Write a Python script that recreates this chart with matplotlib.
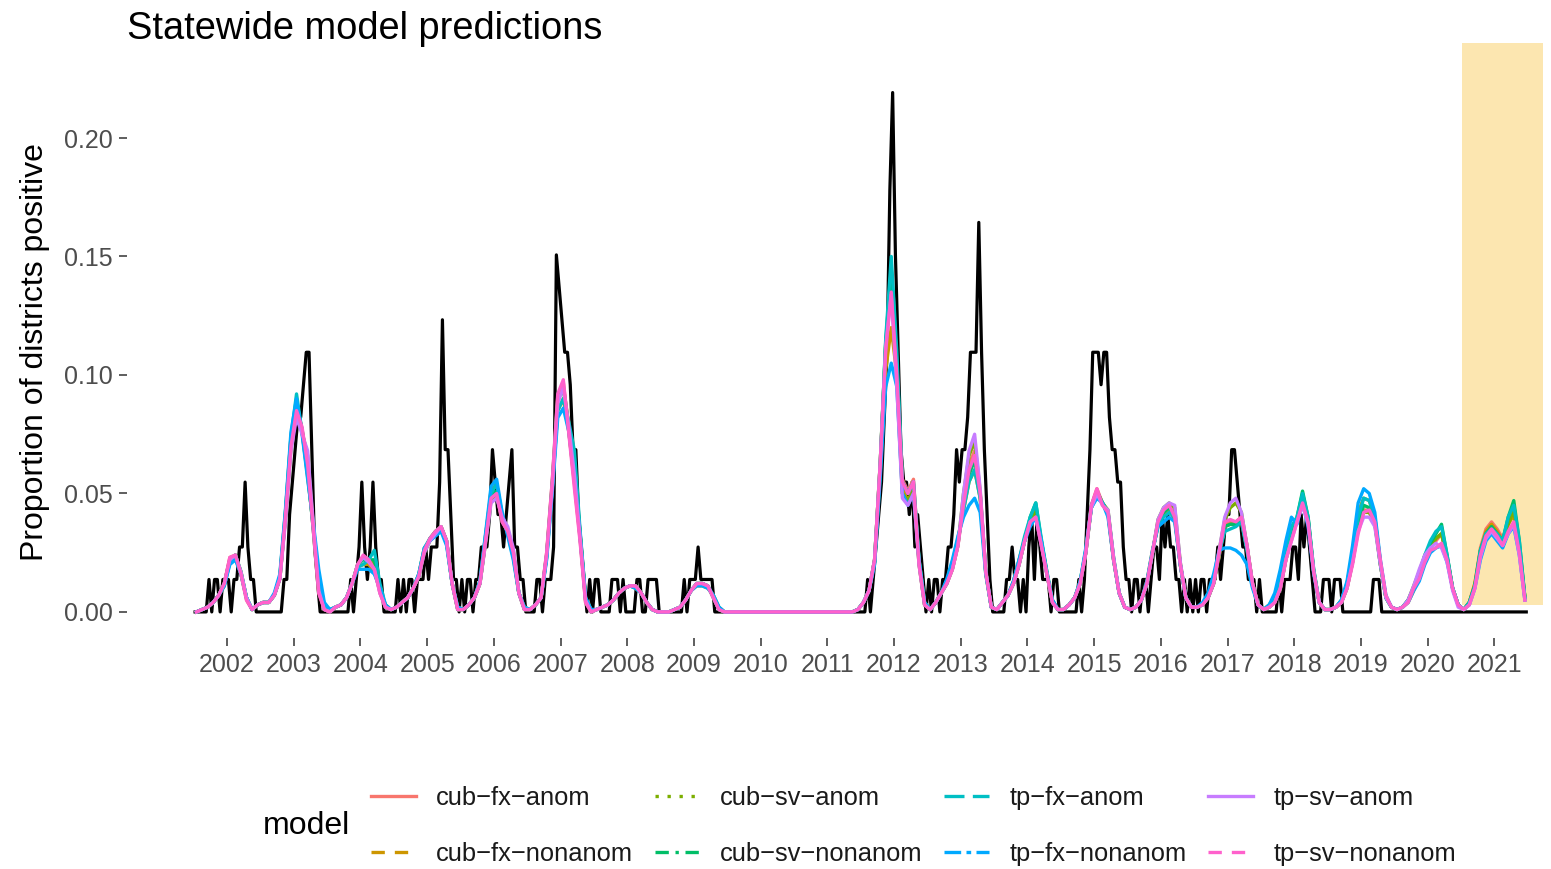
"""Statewide model predictions: observed proportion of districts positive vs 8 model fits."""
import numpy as np
import matplotlib
matplotlib.use("Agg")
import matplotlib.pyplot as plt
from matplotlib.lines import Line2D

plt.rcParams["font.family"] = ["Liberation Sans", "DejaVu Sans"]

N_DISTRICTS = 73
T_START = 2001.5          # series start (mid 2001)
PRED_WINDOW = (2020.52, 2021.73)

# observed: number of districts positive, half-month steps, Jul 2001 .. Jun 2021
obs_counts = [
    0, 0, 0, 0, 0, 1, 0, 1, 1, 0, 1, 1,                                          # 2001 (Jul-Dec)
    1, 0, 1, 1, 2, 2, 4, 2, 1, 1, 0, 0, 0, 0, 0, 0, 0, 0, 0, 0, 1, 1, 3, 4,      # 2002
    5, 6, 6, 7, 8, 8, 5, 2, 1, 0, 0, 0, 0, 0, 0, 0, 0, 0, 0, 0, 1, 0, 1, 2,      # 2003
    4, 2, 1, 2, 4, 2, 1, 1, 0, 0, 0, 0, 0, 1, 0, 1, 0, 1, 1, 0, 1, 1, 1, 2,      # 2004
    1, 2, 2, 2, 4, 9, 5, 5, 3, 1, 1, 0, 1, 0, 1, 1, 0, 1, 1, 2, 2, 2, 3, 5,      # 2005
    4, 3, 3, 2, 3, 4, 5, 2, 2, 1, 1, 0, 0, 0, 0, 1, 1, 0, 1, 1, 1, 2, 11, 10,    # 2006
    9, 8, 8, 7, 5, 5, 3, 2, 1, 0, 1, 0, 1, 1, 0, 0, 0, 0, 1, 1, 1, 0, 1, 0,      # 2007
    0, 0, 0, 1, 1, 0, 0, 1, 1, 1, 1, 0, 0, 0, 0, 0, 0, 0, 0, 0, 1, 0, 1, 1,      # 2008
    1, 2, 1, 1, 1, 1, 1, 0, 0, 0, 0, 0, 0, 0, 0, 0, 0, 0, 0, 0, 0, 0, 0, 0,      # 2009
    0, 0, 0, 0, 0, 0, 0, 0, 0, 0, 0, 0, 0, 0, 0, 0, 0, 0, 0, 0, 0, 0, 0, 0,      # 2010
    0, 0, 0, 0, 0, 0, 0, 0, 0, 0, 0, 0, 0, 0, 1, 0, 1, 2, 3, 4, 6, 8, 13, 16,    # 2011
    11, 8, 5, 4, 4, 3, 4, 2, 3, 2, 1, 0, 1, 0, 1, 1, 0, 1, 1, 2, 2, 3, 5, 4,     # 2012
    5, 5, 6, 8, 8, 8, 12, 8, 5, 3, 1, 0, 0, 0, 0, 0, 1, 1, 2, 1, 1, 0, 1, 0,     # 2013
    2, 3, 1, 3, 2, 1, 1, 1, 0, 1, 1, 0, 0, 0, 0, 0, 0, 0, 1, 0, 1, 3, 5, 8,      # 2014
    8, 8, 7, 8, 8, 6, 5, 5, 4, 4, 2, 1, 1, 0, 1, 1, 0, 1, 1, 0, 1, 2, 2, 1,      # 2015
    3, 2, 3, 2, 2, 1, 1, 0, 1, 0, 1, 0, 1, 0, 1, 1, 0, 1, 1, 1, 2, 1, 2, 3,      # 2016
    3, 5, 5, 4, 3, 2, 2, 1, 1, 1, 0, 1, 0, 0, 0, 0, 0, 0, 1, 0, 1, 1, 1, 2,      # 2017
    2, 1, 3, 2, 3, 2, 1, 0, 0, 0, 1, 1, 1, 0, 1, 1, 1, 0, 0, 0, 0, 0, 0, 0,      # 2018
    0, 0, 0, 0, 1, 1, 1, 0, 0, 0, 0, 0, 0, 0, 0, 0, 0, 0, 0, 0, 0, 0, 0, 0,      # 2019
    0, 0, 0, 0, 0, 0, 0, 0, 0, 0, 0, 0, 0, 0, 0, 0, 0, 0, 0, 0, 0, 0, 0, 0,      # 2020
    0, 0, 0, 0, 0, 0, 0, 0, 0, 0, 0, 0,                                          # 2021 (Jan-Jun)
]

# model predictions, monthly, Jul 2001 .. Jun 2021, in units of 1/1000
cub_fx_anom = [
    0, 1, 2, 4, 7, 12,
    23, 24, 16, 5, 1, 3, 4, 4, 7, 14, 40, 71,
    86, 77, 61, 35, 8, 1, 0, 2, 3, 6, 12, 20,
    23, 22, 19, 8, 2, 1, 2, 4, 6, 10, 15, 26,
    31, 34, 36, 30, 12, 1, 1, 3, 6, 12, 30, 48,
    50, 38, 34, 25, 8, 1, 1, 3, 6, 25, 55, 91,
    97, 76, 54, 31, 4, 0, 1, 2, 3, 5, 8, 10,
    11, 11, 8, 4, 1, 0, 0, 0, 1, 2, 5, 9,
    12, 12, 11, 6, 1, 0, 0, 0, 0, 0, 0, 0,
    0, 0, 0, 0, 0, 0, 0, 0, 0, 0, 0, 0,
    0, 0, 0, 0, 0, 1, 4, 9, 22, 62, 112, 140,
    102, 56, 51, 56, 21, 3, 1, 4, 8, 12, 18, 28,
    46, 62, 68, 50, 17, 2, 1, 4, 7, 12, 20, 30,
    39, 43, 29, 16, 4, 1, 1, 3, 6, 12, 25, 45,
    52, 46, 42, 22, 8, 2, 1, 2, 5, 12, 25, 38,
    43, 45, 41, 20, 6, 2, 2, 3, 6, 12, 25, 37,
    38, 38, 40, 28, 12, 3, 1, 2, 4, 10, 22, 31,
    39, 48, 39, 17, 4, 1, 1, 2, 4, 10, 21, 35,
    43, 43, 38, 20, 6, 2, 1, 2, 5, 10, 15, 22,
    27, 30, 33, 23, 10, 3, 1, 4, 12, 27, 35, 38,
    35, 31, 38, 42, 28, 6,
]
cub_fx_nonanom = [
    0, 1, 2, 4, 7, 11,
    21, 23, 16, 6, 1, 3, 4, 4, 7, 15, 42, 74,
    89, 76, 57, 37, 14, 3, 1, 2, 3, 6, 12, 19,
    20, 20, 17, 9, 3, 1, 2, 4, 6, 10, 16, 27,
    30, 33, 35, 29, 12, 2, 1, 3, 6, 13, 32, 51,
    54, 41, 33, 23, 8, 2, 1, 3, 6, 23, 52, 85,
    90, 76, 55, 32, 6, 1, 1, 2, 3, 5, 8, 10,
    11, 10, 8, 4, 1, 0, 0, 0, 1, 2, 5, 9,
    11, 11, 10, 7, 2, 0, 0, 0, 0, 0, 0, 0,
    0, 0, 0, 0, 0, 0, 0, 0, 0, 0, 0, 0,
    0, 0, 0, 0, 0, 1, 4, 9, 21, 58, 102, 120,
    100, 52, 47, 52, 22, 4, 1, 4, 8, 13, 21, 31,
    43, 55, 60, 48, 16, 2, 1, 4, 7, 13, 22, 31,
    38, 43, 30, 16, 5, 1, 1, 3, 6, 13, 26, 44,
    49, 46, 41, 22, 8, 2, 1, 2, 5, 13, 26, 36,
    41, 43, 39, 20, 6, 2, 2, 3, 6, 12, 24, 36,
    37, 37, 38, 27, 12, 3, 1, 3, 6, 13, 25, 35,
    39, 48, 38, 17, 4, 1, 1, 2, 5, 12, 25, 42,
    48, 47, 40, 21, 6, 2, 1, 2, 4, 9, 14, 21,
    27, 31, 33, 23, 10, 3, 1, 4, 12, 26, 34, 37,
    34, 30, 37, 41, 27, 6,
]
cub_sv_anom = [
    0, 1, 2, 4, 7, 12,
    22, 24, 17, 6, 1, 3, 4, 4, 7, 14, 39, 69,
    84, 76, 66, 37, 9, 1, 0, 2, 3, 6, 12, 20,
    23, 22, 20, 9, 2, 1, 2, 4, 6, 10, 15, 25,
    30, 33, 36, 30, 12, 1, 1, 3, 6, 12, 29, 47,
    49, 40, 35, 26, 8, 1, 1, 3, 6, 24, 53, 89,
    95, 79, 60, 33, 5, 0, 1, 2, 3, 5, 8, 10,
    11, 11, 8, 4, 1, 0, 0, 0, 1, 2, 5, 9,
    12, 12, 11, 6, 1, 0, 0, 0, 0, 0, 0, 0,
    0, 0, 0, 0, 0, 0, 0, 0, 0, 0, 0, 0,
    0, 0, 0, 0, 0, 1, 4, 9, 22, 62, 113, 138,
    98, 50, 47, 51, 20, 3, 1, 4, 8, 12, 18, 28,
    50, 66, 72, 51, 17, 2, 1, 4, 7, 12, 20, 30,
    39, 42, 29, 16, 4, 1, 1, 3, 6, 12, 25, 44,
    51, 46, 43, 23, 8, 2, 1, 2, 5, 12, 25, 39,
    44, 46, 44, 21, 6, 2, 2, 3, 6, 12, 26, 39,
    44, 46, 42, 28, 12, 3, 1, 2, 4, 10, 22, 31,
    39, 48, 39, 17, 4, 1, 1, 2, 4, 10, 21, 35,
    42, 42, 37, 20, 6, 2, 1, 2, 5, 11, 17, 24,
    28, 31, 33, 23, 10, 3, 1, 4, 11, 25, 33, 36,
    33, 30, 37, 43, 28, 6,
]
cub_sv_nonanom = [
    0, 1, 2, 4, 7, 12,
    22, 24, 17, 6, 1, 3, 4, 4, 7, 14, 40, 72,
    88, 77, 60, 35, 10, 2, 0, 2, 3, 6, 12, 20,
    22, 22, 22, 10, 2, 1, 2, 4, 6, 10, 15, 26,
    31, 34, 36, 30, 12, 1, 1, 3, 6, 12, 30, 49,
    51, 39, 34, 25, 8, 1, 1, 3, 6, 24, 54, 90,
    94, 78, 62, 33, 5, 0, 1, 2, 3, 5, 8, 10,
    11, 11, 8, 4, 1, 0, 0, 0, 1, 2, 5, 9,
    12, 12, 11, 6, 1, 0, 0, 0, 0, 0, 0, 0,
    0, 0, 0, 0, 0, 0, 0, 0, 0, 0, 0, 0,
    0, 0, 0, 0, 0, 1, 4, 9, 22, 62, 114, 145,
    105, 55, 50, 54, 21, 3, 1, 4, 8, 12, 19, 29,
    45, 58, 64, 50, 17, 2, 1, 4, 7, 12, 20, 30,
    40, 46, 30, 17, 4, 1, 1, 3, 6, 12, 25, 45,
    51, 46, 42, 22, 8, 2, 1, 2, 5, 12, 25, 38,
    42, 44, 40, 20, 6, 2, 2, 3, 6, 12, 25, 36,
    37, 37, 39, 27, 12, 3, 1, 2, 5, 12, 24, 34,
    40, 51, 40, 18, 4, 1, 1, 2, 4, 11, 23, 38,
    45, 44, 38, 20, 6, 2, 1, 2, 5, 10, 15, 23,
    29, 33, 37, 24, 10, 3, 1, 4, 11, 26, 33, 36,
    33, 30, 40, 47, 30, 6,
]
tp_fx_anom = [
    0, 1, 2, 4, 7, 11,
    21, 23, 16, 6, 1, 3, 4, 4, 7, 15, 42, 74,
    92, 76, 58, 36, 14, 3, 1, 2, 3, 6, 12, 19,
    20, 22, 26, 12, 3, 1, 2, 4, 6, 10, 16, 27,
    31, 33, 35, 29, 12, 2, 1, 3, 6, 13, 32, 50,
    54, 41, 33, 24, 8, 2, 1, 3, 6, 23, 52, 85,
    90, 80, 68, 35, 6, 1, 1, 2, 3, 5, 8, 10,
    11, 10, 8, 4, 1, 0, 0, 0, 1, 2, 5, 9,
    12, 12, 11, 7, 2, 0, 0, 0, 0, 0, 0, 0,
    0, 0, 0, 0, 0, 0, 0, 0, 0, 0, 0, 0,
    0, 0, 0, 0, 0, 1, 4, 9, 21, 60, 115, 150,
    110, 55, 50, 55, 22, 4, 1, 4, 8, 13, 20, 30,
    43, 55, 60, 48, 17, 2, 1, 4, 7, 13, 22, 32,
    40, 46, 31, 17, 5, 1, 1, 3, 6, 13, 26, 44,
    50, 46, 42, 23, 8, 2, 1, 2, 5, 12, 25, 37,
    40, 42, 40, 20, 6, 2, 2, 3, 7, 14, 25, 34,
    35, 36, 38, 26, 11, 3, 1, 3, 6, 14, 26, 36,
    40, 50, 40, 18, 4, 1, 1, 2, 5, 12, 24, 40,
    48, 47, 40, 21, 6, 2, 1, 2, 5, 10, 16, 24,
    30, 34, 36, 24, 10, 3, 1, 4, 11, 26, 33, 35,
    33, 30, 40, 45, 30, 6,
]
tp_fx_nonanom = [
    0, 1, 2, 4, 7, 11,
    20, 22, 16, 6, 1, 3, 4, 4, 8, 16, 43, 76,
    90, 75, 56, 38, 18, 4, 1, 2, 3, 6, 12, 18,
    18, 18, 16, 10, 3, 1, 2, 4, 6, 10, 16, 27,
    30, 32, 34, 28, 12, 2, 1, 3, 6, 13, 33, 53,
    56, 42, 32, 22, 8, 2, 1, 3, 6, 22, 50, 82,
    86, 76, 56, 32, 6, 1, 1, 2, 3, 5, 8, 10,
    11, 10, 8, 4, 1, 0, 0, 0, 1, 2, 5, 9,
    11, 11, 10, 7, 2, 0, 0, 0, 0, 0, 0, 0,
    0, 0, 0, 0, 0, 0, 0, 0, 0, 0, 0, 0,
    0, 0, 0, 0, 0, 1, 4, 9, 20, 56, 95, 105,
    95, 50, 45, 50, 22, 4, 1, 4, 8, 14, 22, 32,
    40, 45, 48, 42, 16, 2, 1, 4, 7, 13, 22, 30,
    36, 40, 30, 16, 5, 1, 1, 3, 6, 13, 27, 44,
    48, 46, 40, 22, 8, 2, 1, 2, 5, 13, 26, 36,
    38, 40, 38, 20, 6, 2, 2, 4, 8, 16, 26, 27,
    27, 26, 24, 20, 10, 3, 1, 3, 8, 18, 30, 40,
    37, 46, 36, 16, 4, 1, 1, 2, 5, 13, 28, 46,
    52, 50, 42, 22, 7, 2, 1, 2, 4, 9, 13, 20,
    25, 27, 28, 21, 10, 3, 1, 3, 10, 22, 30, 33,
    30, 27, 33, 36, 24, 5,
]
tp_sv_anom = [
    0, 1, 2, 4, 7, 12,
    22, 24, 17, 6, 1, 3, 4, 4, 7, 14, 38, 68,
    82, 75, 68, 38, 9, 1, 0, 2, 3, 6, 12, 20,
    23, 21, 18, 8, 2, 1, 2, 4, 6, 10, 15, 25,
    30, 33, 36, 30, 12, 1, 1, 3, 6, 12, 29, 46,
    48, 40, 36, 27, 8, 1, 1, 3, 6, 24, 52, 88,
    95, 78, 58, 32, 5, 0, 1, 2, 3, 5, 8, 10,
    11, 11, 8, 4, 1, 0, 0, 0, 1, 2, 5, 9,
    12, 12, 11, 6, 1, 0, 0, 0, 0, 0, 0, 0,
    0, 0, 0, 0, 0, 0, 0, 0, 0, 0, 0, 0,
    0, 0, 0, 0, 0, 1, 4, 9, 22, 62, 112, 134,
    95, 48, 45, 50, 20, 3, 1, 4, 8, 12, 18, 28,
    50, 68, 75, 52, 17, 2, 1, 4, 7, 12, 20, 30,
    38, 40, 28, 16, 4, 1, 1, 3, 6, 12, 25, 44,
    50, 45, 43, 23, 8, 2, 1, 2, 5, 12, 25, 39,
    44, 46, 45, 21, 6, 2, 2, 3, 6, 12, 26, 40,
    46, 48, 42, 28, 12, 3, 1, 2, 4, 10, 22, 30,
    38, 45, 37, 17, 4, 1, 1, 2, 4, 10, 21, 34,
    40, 40, 36, 20, 6, 2, 1, 2, 5, 11, 18, 24,
    27, 29, 27, 21, 9, 2, 1, 3, 10, 23, 31, 34,
    31, 28, 33, 37, 24, 5,
]
tp_sv_nonanom = [
    0, 1, 2, 4, 7, 12,
    23, 24, 16, 5, 1, 3, 4, 4, 7, 14, 40, 70,
    85, 78, 62, 35, 8, 1, 0, 2, 3, 6, 12, 20,
    24, 22, 18, 8, 2, 1, 2, 4, 6, 10, 15, 26,
    31, 34, 36, 30, 12, 1, 1, 3, 6, 12, 30, 48,
    50, 38, 34, 25, 8, 1, 1, 3, 6, 25, 55, 92,
    98, 75, 52, 30, 4, 0, 1, 2, 3, 5, 8, 10,
    11, 11, 8, 4, 1, 0, 0, 0, 1, 2, 5, 9,
    12, 12, 11, 6, 1, 0, 0, 0, 0, 0, 0, 0,
    0, 0, 0, 0, 0, 0, 0, 0, 0, 0, 0, 0,
    0, 0, 0, 0, 0, 1, 4, 9, 22, 62, 110, 135,
    100, 55, 50, 55, 20, 3, 1, 4, 8, 12, 18, 28,
    45, 60, 66, 50, 17, 2, 1, 4, 7, 12, 20, 30,
    38, 40, 28, 16, 4, 1, 1, 3, 6, 12, 25, 45,
    52, 45, 42, 22, 8, 2, 1, 2, 5, 12, 25, 38,
    43, 45, 40, 20, 6, 2, 2, 3, 6, 12, 25, 38,
    39, 38, 40, 28, 12, 3, 1, 2, 4, 10, 22, 30,
    38, 46, 38, 17, 4, 1, 1, 2, 4, 10, 20, 33,
    42, 43, 38, 22, 7, 2, 1, 2, 4, 10, 14, 21,
    26, 27, 29, 22, 10, 3, 1, 3, 10, 24, 32, 35,
    32, 28, 34, 38, 25, 5,
]

model_names = ["cub\u2212fx\u2212anom", "cub\u2212fx\u2212nonanom",
               "cub\u2212sv\u2212anom", "cub\u2212sv\u2212nonanom",
               "tp\u2212fx\u2212anom", "tp\u2212fx\u2212nonanom",
               "tp\u2212sv\u2212anom", "tp\u2212sv\u2212nonanom"]
model_series = [cub_fx_anom, cub_fx_nonanom, cub_sv_anom, cub_sv_nonanom,
                tp_fx_anom, tp_fx_nonanom, tp_sv_anom, tp_sv_nonanom]
model_colors = ["#F8766D", "#CD9600", "#7CAE00", "#00BE67",
                "#00BFC4", "#00A9FF", "#C77CFF", "#FF61CC"]
# legend keys: ggplot linetypes (in line-width units)
model_dashes = ["-", (0, (4, 3)), (0, (1, 2.6)), (0, (4, 2, 1, 2)),
                (0, (6, 2.5)), (0, (5, 1.6, 1.4, 1.6)), "-", (0, (4, 3))]

obs = np.array(obs_counts) / N_DISTRICTS
t_obs = T_START + (np.arange(len(obs)) + 0.5) / 24
t_mod = T_START + (np.arange(len(tp_sv_nonanom)) + 0.5) / 12

W, H = 1551, 869
fig = plt.figure(figsize=(W / 100, H / 100), dpi=100)
ax = fig.add_axes([127 / W, 1 - 638 / H, (1543 - 127) / W, (638 - 43) / H])

ax.fill_between(PRED_WINDOW, 0.003, 0.2401, color="#FCE6B0", lw=0, zorder=0)
ax.plot(t_obs, obs, color="black", lw=2.3, zorder=2)
for vals, col in zip(model_series, model_colors):
    ax.plot(t_mod, np.array(vals) / 1000, color=col, lw=2.4, zorder=3,
            solid_joinstyle="round")

ax.set_xlim(2000.50, 2021.73)
ax.set_ylim(-0.0110, 0.2401)
ax.set_xticks(np.arange(2002, 2022))
ax.set_yticks([0.0, 0.05, 0.10, 0.15, 0.20])
ax.set_yticklabels(["0.00", "0.05", "0.10", "0.15", "0.20"])
for s in ax.spines.values():
    s.set_visible(False)
ax.tick_params(axis="both", labelsize=18, labelcolor="#4D4D4D", color="#333333",
               length=6, width=1.1)
ax.tick_params(axis="x", pad=5)
ax.tick_params(axis="y", pad=4.5)

fig.text(127 / W, 1 - 29 / H, "Statewide model predictions", fontsize=27.4,
         va="center", ha="left")
fig.text(35 / W, 1 - 352 / H, "Proportion of districts positive", fontsize=23,
         rotation=90, va="center", ha="center")

handles = [Line2D([], [], color=c, lw=2.4, linestyle=d)
           for c, d in zip(model_colors, model_dashes)]
fig.legend(handles, model_names, loc="upper left", ncol=4, frameon=False,
           bbox_to_anchor=(371 / W, 1 - 786 / H), borderpad=0, borderaxespad=0,
           fontsize=18.4, handlelength=1.75, handletextpad=0.8, columnspacing=0.85,
           labelspacing=1.25, labelcolor="#1A1A1A")
fig.text(263 / W, 1 - 826 / H, "model", fontsize=23, va="center", ha="left")

fig.savefig("out.png", dpi=100)
